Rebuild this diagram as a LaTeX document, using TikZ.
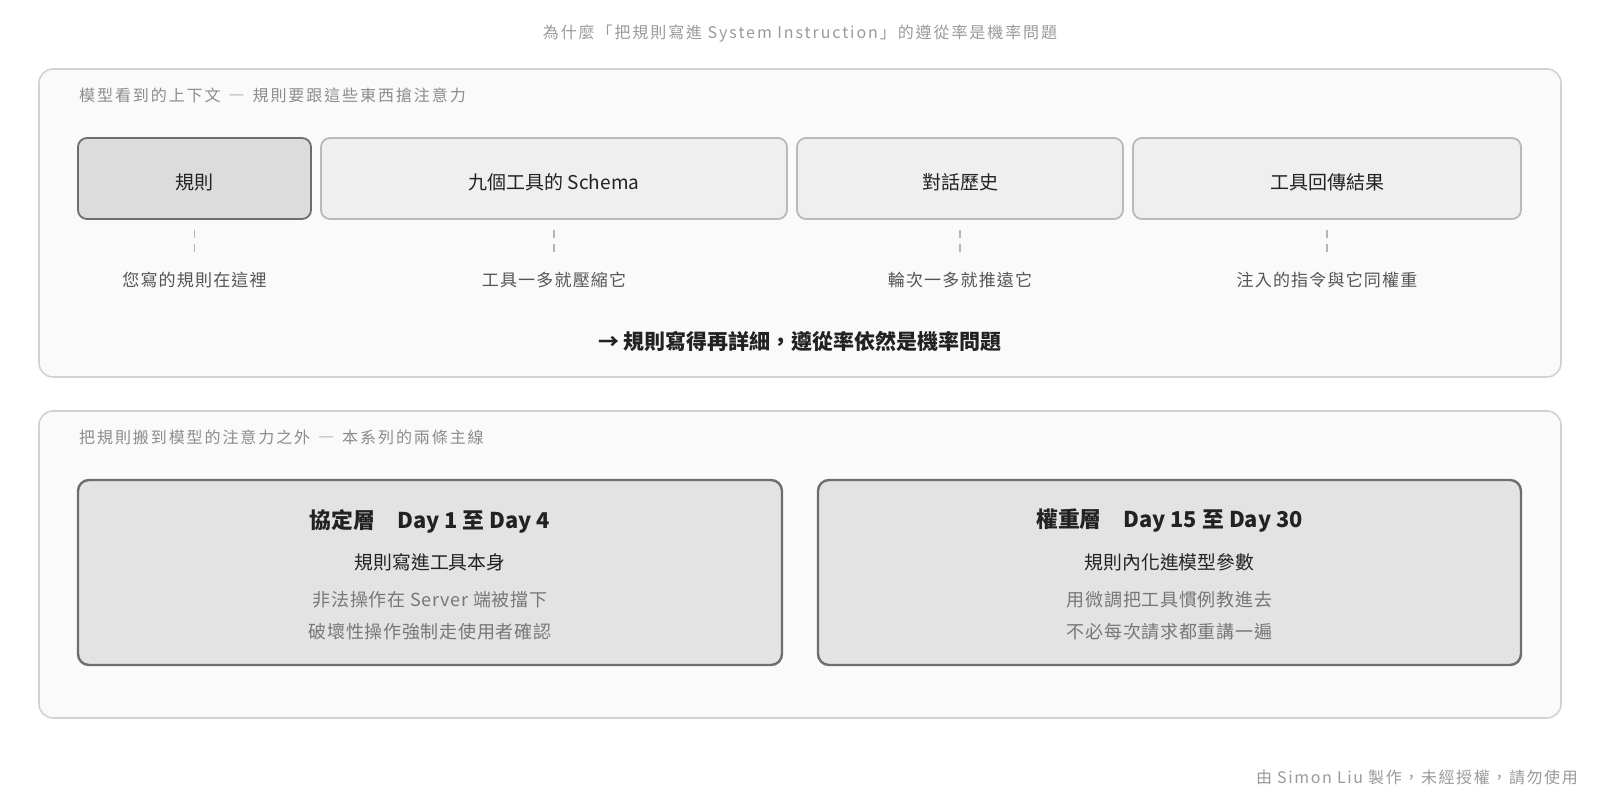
\documentclass[tikz,border=0pt]{standalone}
\usepackage{fontspec}
\setmainfont{Noto Sans CJK TC}
\usetikzlibrary{calc}
\definecolor{cTitle}{HTML}{9A9A9A}
\definecolor{cLabel}{HTML}{8C8C8C}
\definecolor{cPanel}{HTML}{FAFAFA}
\definecolor{cPanelBorder}{HTML}{D2D2D2}
\definecolor{cBox}{HTML}{EFEFEF}
\definecolor{cBoxBorder}{HTML}{B9B9B9}
\definecolor{cRule}{HTML}{DCDCDC}
\definecolor{cRuleBorder}{HTML}{6E6E6E}
\definecolor{cBig}{HTML}{E3E3E3}
\definecolor{cBigBorder}{HTML}{6E6E6E}
\definecolor{cDark}{HTML}{222222}
\definecolor{cMid}{HTML}{555555}
\definecolor{cGrey}{HTML}{777777}
\definecolor{cTick}{HTML}{B5B5B5}
\newcommand\mydash{\hspace{8pt}―\hspace{8pt}}
\tikzset{
  panel/.style={draw=cPanelBorder, fill=cPanel, line width=1.6pt, rounded corners=14pt, inner sep=0pt},
  tbox/.style={draw=cBoxBorder, fill=cBox, line width=1.8pt, rounded corners=9pt, minimum height=81pt, inner sep=0pt},
  rulebox/.style={tbox, draw=cRuleBorder, fill=cRule},
  boxtxt/.style={font=\fontsize{19}{22}\selectfont, text=cDark, inner sep=0pt},
  bigbox/.style={draw=cBigBorder, fill=cBig, line width=2.4pt, rounded corners=11pt, minimum height=185pt, inner sep=0pt},
  lighttxt/.style={font=\fontsize{16}{19}\selectfont\addfontfeatures{LetterSpace=12}, text=cLabel, inner sep=0pt},
  subtxt/.style={font=\fontsize{17}{20}\selectfont\addfontfeatures{LetterSpace=7}, text=cMid, inner sep=0pt},
  tickline/.style={draw=cTick, line width=1.8pt, dash pattern=on 8pt off 6pt},
  bigtitle/.style={font=\fontsize{21.8}{25}\selectfont\bfseries, text=cDark, inner sep=0pt},
  bigsub/.style={font=\fontsize{18.8}{22}\selectfont, text=cDark, inner sep=0pt},
  biggrey/.style={font=\fontsize{18}{21}\selectfont\addfontfeatures{LetterSpace=4}, text=cGrey, inner sep=0pt},
}
\begin{document}
\begin{tikzpicture}[x=1pt,y=-1pt]
\path[fill=white] (0,0) rectangle (1600,797);
\useasboundingbox (0,0) rectangle (1600,797);

% title
\node[lighttxt, text=cTitle] (title) at (800,34) {為什麼「把規則寫進 System Instruction」的遵從率是機率問題};

% panel 1
\node[panel, minimum width=1522pt, minimum height=308pt] (p1) at (800,223) {};
\node[lighttxt, anchor=west] (p1lab) at (79,95) {模型看到的上下文\mydash 規則要跟這些東西搶注意力};

\node[rulebox, minimum width=233pt] (b1) at (194.5,178.5) {};
\node[tbox, minimum width=466pt] (b2) at (554,178.5) {};
\node[tbox, minimum width=326pt] (b3) at (960,178.5) {};
\node[tbox, minimum width=388pt] (b4) at (1327,178.5) {};
\node[boxtxt] (t1) at ($(b1)+(0,4)$) {規則};
\node[boxtxt] (t2) at ($(b2)+(0,4)$) {九個工具的 Schema};
\node[boxtxt] (t3) at ($(b3)+(0,4)$) {對話歷史};
\node[boxtxt] (t4) at ($(b4)+(0,4)$) {工具回傳結果};

\node[subtxt] (l1) at (194.5,280) {您寫的規則在這裡};
\node[subtxt] (l2) at (554,280) {工具一多就壓縮它};
\node[subtxt] (l3) at (960,280) {輪次一多就推遠它};
\node[subtxt] (l4) at (1327,280) {注入的指令與它同權重};

\foreach \b in {1,2,3,4}{
  \draw[tickline] ($(b\b.south)+(0,10)$) -- ($(b\b.south)+(0,32)$);
}

\node[font=\fontsize{21}{25}\selectfont\bfseries, text=cDark, inner sep=0pt] (concl) at (800,341) {→ 規則寫得再詳細，遵從率依然是機率問題};

% panel 2
\node[panel, minimum width=1522pt, minimum height=307pt] (p2) at (800,564.5) {};
\node[lighttxt, anchor=west] (p2lab) at (79,437) {把規則搬到模型的注意力之外\mydash 本系列的兩條主線};

\node[bigbox, minimum width=704pt] (L) at (430,572.5) {};
\node[bigbox, minimum width=703pt] (R) at (1169.5,572.5) {};

\node[bigtitle] (Lt) at (430,521) {協定層　Day 1 至 Day 4};
\node[bigsub] (Ls) at (430,562) {規則寫進工具本身};
\node[biggrey] (Lg1) at (430,600) {非法操作在 Server 端被擋下};
\node[biggrey] (Lg2) at (430,632) {破壞性操作強制走使用者確認};

\node[bigtitle] (Rt) at (1169.5,521) {權重層　Day 15 至 Day 30};
\node[bigsub] (Rs) at (1169.5,562) {規則內化進模型參數};
\node[biggrey] (Rg1) at (1169.5,600) {用微調把工具慣例教進去};
\node[biggrey] (Rg2) at (1169.5,632) {不必每次請求都重講一遍};

% footer
\node[lighttxt, text=cTitle, anchor=east, font=\fontsize{16}{19}\selectfont\addfontfeatures{LetterSpace=10}] (foot) at (1578,777) {由 Simon Liu 製作，未經授權，請勿使用};
\end{tikzpicture}
\end{document}
